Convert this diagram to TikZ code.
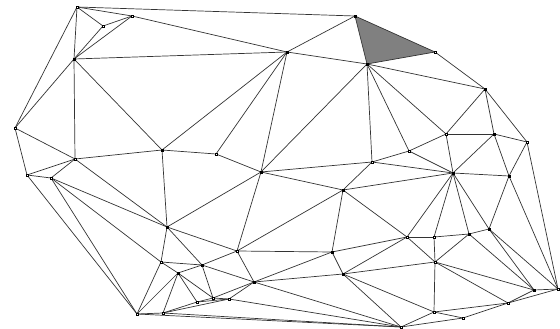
\documentclass[tikz,border=0pt]{standalone}
\usepackage{tikz}
\tikzset{
  edge/.style={draw=black!80, line width=0.7pt},
  vtx/.style={draw=black, fill=white, rectangle, inner sep=0pt, minimum size=2.2pt, line width=0.5pt},
  vtxf/.style={vtx, fill=black},
  hole/.style={fill=black!50}
}
\begin{document}
\begin{tikzpicture}[x=1pt,y=-1pt]
  \useasboundingbox (0,0) rectangle (560,329);
  % mesh points
  \foreach \n/\x/\y in {a/77/7, b/132/16, c/103/26, h/355/16, d/74/59, i/287/52, j/367/64,
      l/435/52, m/485/89, e/15/128, n/446/134, o/494/134, p/527/142, g/162/150, k/216/154,
      q/409/151, r/372/162, f/75/159, z/261/172, aj/453/173, ak/509/176, s/27/175, t/51/178,
      aa/343/190, u/167/227, ao/489/229, an/469/234, al/407/237, am/434/237, ab/237/251,
      ac/332/252, v/161/262, ap/435/262, ad/202/265, w/178/273, ae/343/274, af/254/282,
      ar/558/289, aq/534/290, ah/229/299, ag/213/298, ai/197/302, bs/508/303, bt/434/312,
      y/163/313, x/137/314, au/463/318, av/401/327}
    \coordinate (\n) at (\x,\y);
  % marked triangle
  \fill[hole] (h) -- (j) -- (l) -- cycle;
  % edges
  \foreach \a/\b in {a/h, a/b, a/c, b/c, a/d, a/e, c/d, b/d, b/i, d/i, d/e, d/f, d/g, e/f,
      e/s, f/g, g/i, g/k, g/u, f/s, f/t, f/u, s/t, s/x, t/x, t/u, t/v, u/v, v/x, w/x, v/w,
      w/y, x/y, i/h, i/j, h/j, i/k, i/z, j/z, k/z, z/r, j/r, h/l, j/l, l/m, j/m, m/n, m/o,
      m/p, j/n, j/q, n/o, n/q, o/p, n/aj, o/aj, o/ak, p/ak, p/ar, q/r, q/aj, r/aj, r/aa,
      aa/aj, aa/z, aa/ab, aa/ac, aa/al, al/aj, aj/am, aj/an, aj/ao, aj/ak, ak/ao, ak/ar,
      al/am, am/an, an/ao, an/ap, am/ap, al/ap, al/ac, al/ae, ae/ap, ae/bt, ap/bt, ap/bs,
      ap/aq, an/aq, ao/aq, ao/ar, aq/ar, aq/bs, bs/ar, bt/bs, bt/au, au/bs, bt/av, au/av,
      u/z, u/ab, z/ab, ab/ac, ab/af, ac/af, ac/ae, ae/af, ab/ad, u/ad, v/ad, w/ad, ad/af,
      ad/ag, w/ai, w/ag, y/ai, ai/ag, ag/ah, ai/ah, y/ah, ag/af, ah/af, ah/av, y/av, x/av,
      af/av, ae/av}
    \draw[edge] (\a) -- (\b);
  % markers
  \foreach \n in {a, b, c, e, f, k, l, n, p, q, r, s, t, v, ab, al, am, ap, ar, ah, ag, ai, bs, bt, y, x, au, av}
    \node[vtx] (m-\n) at (\n) {};
  \foreach \n in {h, d, i, j, m, o, g, z, aj, ak, aa, u, ao, an, ac, ad, w, ae, af, aq}
    \node[vtxf] (m-\n) at (\n) {};
\end{tikzpicture}
\end{document}
